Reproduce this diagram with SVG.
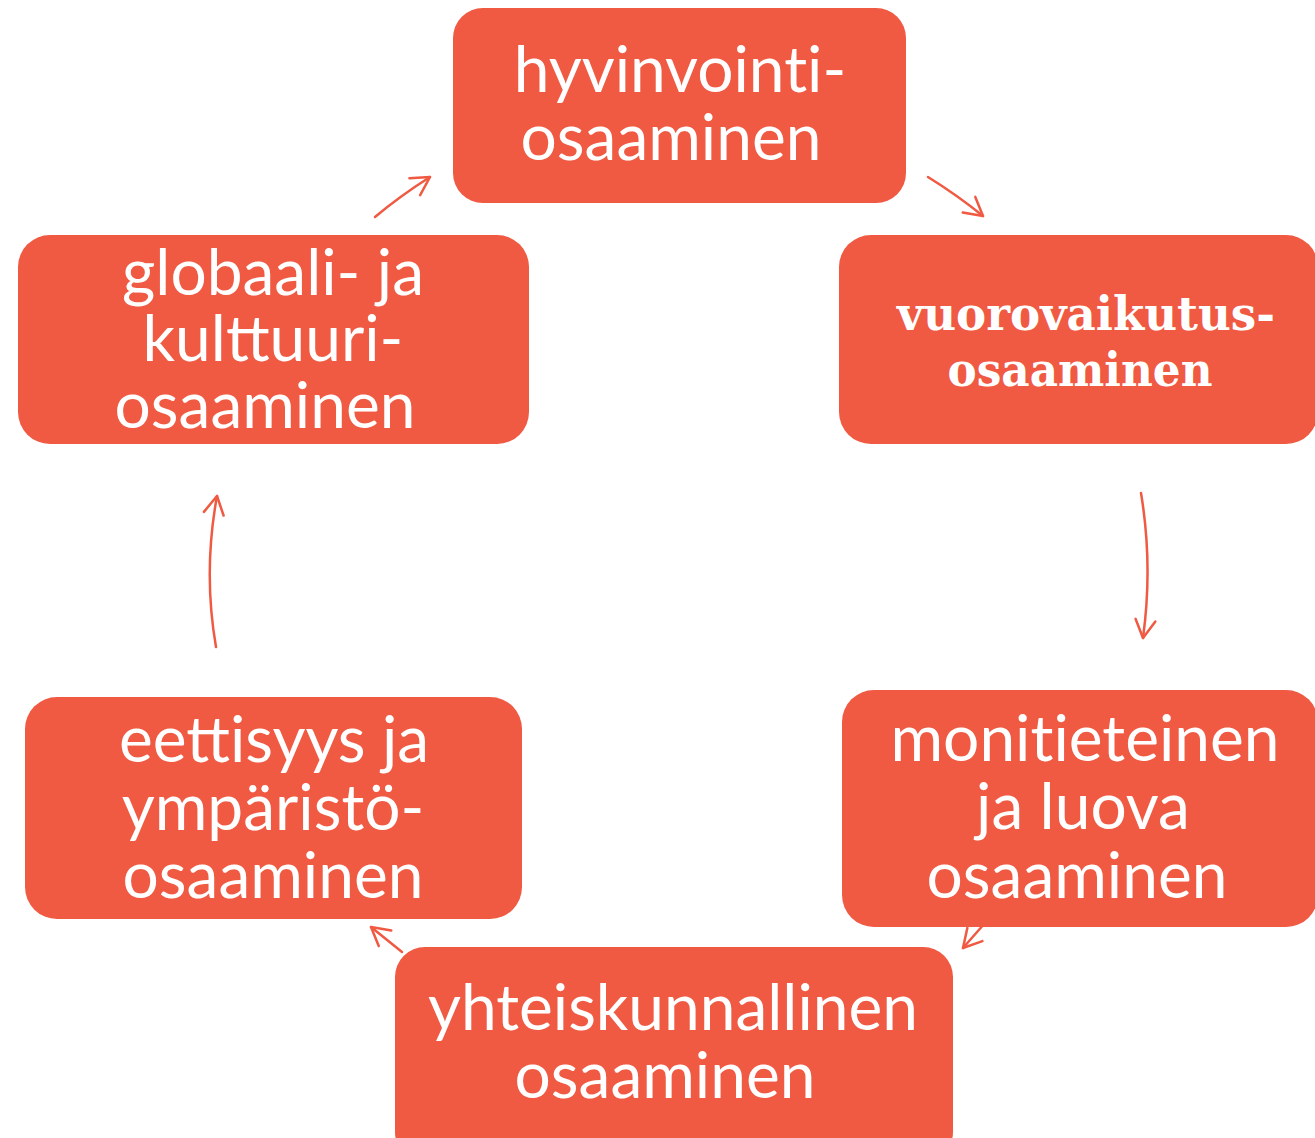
<svg xmlns="http://www.w3.org/2000/svg" width="1315" height="1138" viewBox="0 0 1315 1138">
<style>
.box{fill:#F05942}
.t{fill:#ffffff;font-family:Lato,"Open Sans","Liberation Sans",sans-serif;font-size:64px;text-anchor:middle}
.nl{font-variant-ligatures:none}
.s{fill:#ffffff;font-family:"DejaVu Serif","Liberation Serif",serif;font-weight:bold;font-size:46px;text-anchor:middle}
.c{fill:none;stroke:#F05942;stroke-width:2.5;stroke-linecap:round;stroke-linejoin:round}
</style>
<defs>
<marker id="ah" markerUnits="userSpaceOnUse" viewBox="-25 -15 30 30" refX="0" refY="0" markerWidth="30" markerHeight="30" orient="auto" overflow="visible">
<path d="M-18,-10 L0,0 L-18,10" fill="none" stroke="#F05942" stroke-width="2.5" stroke-linecap="round" stroke-linejoin="round"/>
</marker>
</defs>
<rect width="1315" height="1138" fill="#ffffff"/>
<g id="connectors">
<path class="c" d="M375,217 Q400,196 430,177" marker-end="url(#ah)"/>
<path class="c" d="M928,177 Q957,195 983,216" marker-end="url(#ah)"/>
<path class="c" d="M1141,493 Q1153,565 1143,638" marker-end="url(#ah)"/>
<path class="c" d="M992,915 L963,948" marker-end="url(#ah)"/>
<path class="c" d="M402,952 L371,927" marker-end="url(#ah)"/>
<path class="c" d="M216,647 Q203,572 217,496" marker-end="url(#ah)"/>
</g>
<g id="node-hyvinvointi">
<rect class="box" x="453" y="8" width="453" height="195" rx="30"/>
<text class="t nl" x="680" y="92">hyvinvointi-</text>
<text class="t" x="671" y="160">osaaminen</text>
</g>
<g id="node-vuorovaikutus">
<rect class="box" x="839" y="235" width="479" height="209" rx="32"/>
<text class="s" x="1086" y="330" textLength="378" lengthAdjust="spacingAndGlyphs">vuorovaikutus-</text>
<text class="s" x="1080" y="386" textLength="265" lengthAdjust="spacingAndGlyphs">osaaminen</text>
</g>
<g id="node-monitieteinen">
<rect class="box" x="842" y="690" width="476" height="237" rx="32"/>
<text class="t nl" x="1085" y="761">monitieteinen</text>
<text class="t" x="1083" y="829">ja luova</text>
<text class="t" x="1077" y="898">osaaminen</text>
</g>
<g id="node-yhteiskunnallinen">
<rect class="box" x="395" y="947" width="558" height="215" rx="30"/>
<text class="t" x="673" y="1030">yhteiskunnallinen</text>
<text class="t" x="665" y="1098">osaaminen</text>
</g>
<g id="node-eettisyys">
<rect class="box" x="25" y="697" width="497" height="222" rx="32"/>
<text class="t" x="274" y="762"><tspan>eett</tspan><tspan class="nl">isyys ja</tspan></text>
<text class="t" x="273" y="830">ympäristö-</text>
<text class="t" x="273" y="898">osaaminen</text>
</g>
<g id="node-globaali">
<rect class="box" x="18" y="235" width="511" height="209" rx="32"/>
<text class="t" x="273" y="295">globaali- ja</text>
<text class="t" x="273" y="361">kulttuuri-</text>
<text class="t" x="265" y="428">osaaminen</text>
</g>
</svg>
